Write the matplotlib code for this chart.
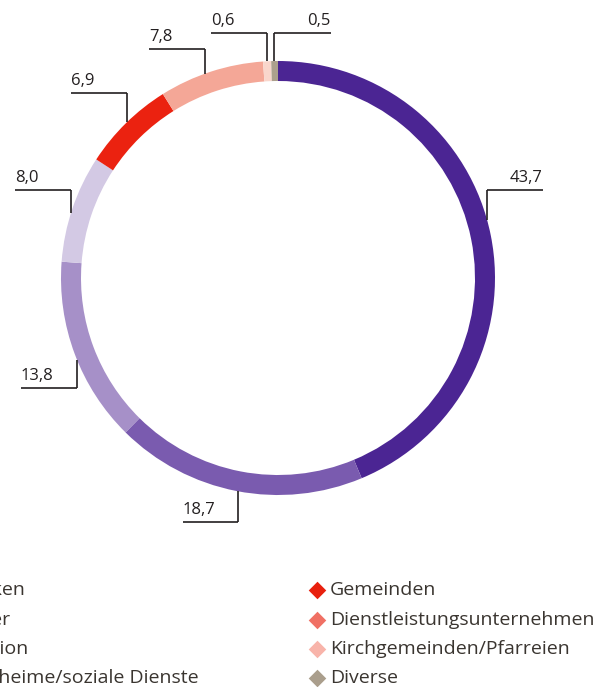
import matplotlib
matplotlib.use("Agg")
import matplotlib.pyplot as plt
import numpy as np

# donut shares in percent, clockwise from 12 o'clock
VALUES = [43.7, 18.7, 13.8, 8.0, 6.9, 7.8, 0.6, 0.5]
VALUE_LABELS = ["43,7", "18,7", "13,8", "8,0", "6,9", "7,8", "0,6", "0,5"]
COLORS = ["#4B2593", "#7A5BAF", "#A690C8", "#D3C9E4",
          "#EB2210", "#F4A797", "#F9D6CC", "#ACA08D"]

LEFT_NAMES = ["Spitäler und Kliniken", "Private Schulträger",
              "Kantonale Institution", "Alters- und Pflegeheime/soziale Dienste"]
RIGHT_NAMES = ["Gemeinden", "Dienstleistungsunternehmen",
               "Kirchgemeinden/Pfarreien", "Diverse"]
LEFT_MARKERS = ["#4B2593", "#7A5BAF", "#A690C8", "#D3C9E4"]
RIGHT_MARKERS = ["#E8200E", "#F07064", "#F8B4AA", "#AA9E8C"]

W, H = 597, 687
CX, CY, R, RING = 278, 278, 217, 20
TEXT = "#231F20"
FONT = "Open Sans"

# leader line layout: x of the vertical stub, y of the horizontal bar,
# bar start/end x, text side
LEADERS = [
    (487, 190, 487, 543, "right"),
    (238, 522, 183, 238, "left"),
    (77, 388, 21, 77, "left"),
    (71, 190, 15, 71, "left"),
    (127, 93, 71, 127, "left"),
    (205, 49, 149, 205, "left"),
    (267, 33, 211, 267, "left"),
    (274, 33, 274, 331, "right"),
]

fig = plt.figure(figsize=(W / 100, H / 100), dpi=100)
ax = fig.add_axes([0, 0, 1, 1])

# y axis is inverted (pixel style), so counterclock=True shows clockwise
ax.pie(VALUES, colors=COLORS, radius=R, center=(CX, CY),
       startangle=-90, counterclock=True,
       wedgeprops=dict(width=RING, linewidth=0))
ax.set_xlim(0, W)
ax.set_ylim(H, 0)
ax.set_aspect("equal")
ax.axis("off")

for (vx, hy, x0, x1, side), lab in zip(LEADERS, VALUE_LABELS):
    # vertical stub ends on the outer edge of the ring
    dy = np.sqrt(R ** 2 - (vx - CX) ** 2)
    ring_y = CY - dy if hy < CY else CY + dy
    ax.plot([x0, x1], [hy, hy], color=TEXT, lw=1.2, solid_capstyle="butt")
    ax.plot([vx, vx], [hy, ring_y], color=TEXT, lw=1.2, solid_capstyle="butt")
    if side == "right":
        ax.text(x1, hy - 4, lab, ha="right", va="bottom", fontsize=12,
                family=FONT, color=TEXT)
    else:
        ax.text(x0, hy - 4, lab, ha="left", va="bottom", fontsize=12,
                family=FONT, color=TEXT)

# legend, left column sits partly outside the canvas like in the original
rows_y = [590, 620, 649, 678]
fs_leg = 14
renderer = fig.canvas.get_renderer()
probe = ax.text(0, 0, "Alters- und Pflege", fontsize=fs_leg, family=FONT)
prefix_w = probe.get_window_extent(renderer).width
probe.remove()
left_x = -2 - prefix_w

for y, name, c in zip(rows_y, LEFT_NAMES, LEFT_MARKERS):
    ax.scatter([left_x - 14], [y], marker="D", s=80, color=c, linewidths=0,
               clip_on=False)
    ax.text(left_x, y, name, ha="left", va="center", fontsize=fs_leg,
            family=FONT, color="#3A3530", clip_on=False)

for y, name, c in zip(rows_y, RIGHT_NAMES, RIGHT_MARKERS):
    ax.scatter([317], [y], marker="D", s=80, color=c, linewidths=0,
               clip_on=False)
    ax.text(330, y, name, ha="left", va="center", fontsize=fs_leg,
            family=FONT, color="#3A3530", clip_on=False)

fig.savefig("out.png", dpi=100)
